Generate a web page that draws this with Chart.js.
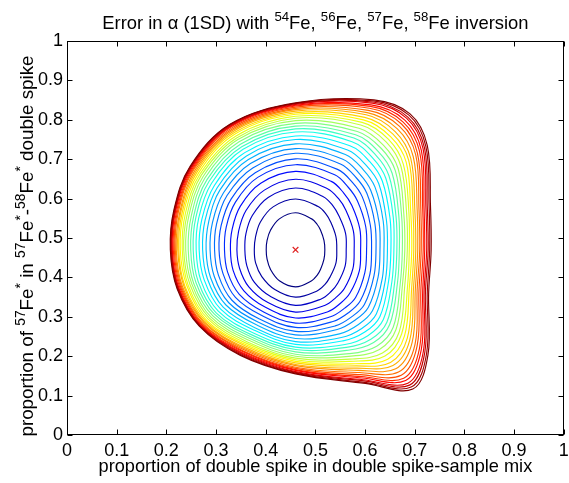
<!DOCTYPE html>
<html><head><meta charset="utf-8">
<script src="https://cdn.jsdelivr.net/npm/chart.js@4.4.0/dist/chart.umd.min.js"></script>
<style>html,body{margin:0;padding:0;background:#fff;}#wrap{width:569px;height:483px;position:relative;}</style>
</head><body><div id="wrap"><canvas id="c"></canvas></div>
<script>
// ---------- data ----------
const xTicks = [0, 0.1, 0.2, 0.3, 0.4, 0.5, 0.6, 0.7, 0.8, 0.9, 1];
const yTicks = [0, 0.1, 0.2, 0.3, 0.4, 0.5, 0.6, 0.7, 0.8, 0.9, 1];
const minimumPoint = {x: 0.46, y: 0.47};
// ray directions (degrees, data space) from the minimum
const rayAngles = [0, 22.5, 45, 56.25, 67.5, 90, 112.5, 135, 157.5, 180, 202.5, 225, 247.5, 270, 292.5, 303.75, 315, 337.5];
// distance (data units) from the minimum where each contour (inner -> outer) crosses each ray
const ray000 = [.059,.083,.102,.118,.131,.143,.153,.162,.170,.178,.185,.192,.198,.204,.209,.215,.220,.225,.229,.234,.238,.242,.246,.250,.253,.257,.260,.264,.267,.270,.273];
const ray022 = [.062,.088,.109,.126,.140,.153,.163,.173,.182,.191,.198,.206,.213,.219,.225,.231,.236,.242,.247,.251,.256,.260,.265,.269,.273,.277,.280,.284,.287,.291,.294];
const ray045 = [.071,.100,.123,.143,.160,.176,.190,.203,.214,.226,.237,.247,.257,.266,.275,.284,.292,.300,.307,.315,.322,.328,.335,.342,.347,.353,.358,.363,.367,.371,.375];
const ray056 = [.078,.110,.135,.156,.174,.191,.206,.220,.232,.245,.257,.269,.280,.290,.300,.310,.319,.329,.337,.345,.353,.361,.369,.377,.384,.390,.396,.402,.406,.411,.415];
const ray067 = [.085,.119,.146,.168,.188,.206,.221,.236,.249,.262,.274,.286,.297,.307,.316,.325,.334,.343,.350,.357,.364,.371,.377,.383,.389,.394,.398,.403,.406,.409,.412];
const ray090 = [.094,.129,.157,.179,.199,.216,.231,.245,.257,.269,.280,.289,.299,.307,.314,.321,.328,.334,.339,.344,.348,.352,.356,.359,.362,.365,.367,.369,.371,.372,.373];
const ray112 = [.085,.118,.144,.164,.183,.199,.212,.225,.237,.248,.258,.267,.276,.283,.290,.297,.303,.308,.313,.318,.322,.326,.329,.332,.335,.338,.340,.341,.343,.344,.345];
const ray135 = [.071,.100,.123,.141,.157,.171,.183,.195,.205,.215,.223,.231,.239,.246,.252,.258,.263,.268,.272,.276,.280,.283,.286,.289,.291,.293,.295,.297,.298,.299,.300];
const ray157 = [.062,.087,.108,.124,.138,.151,.162,.172,.181,.189,.197,.204,.211,.217,.222,.227,.232,.236,.240,.244,.247,.250,.252,.255,.257,.259,.261,.262,.263,.264,.265];
const ray180 = [.059,.083,.102,.118,.131,.143,.154,.163,.172,.180,.187,.194,.200,.206,.211,.216,.221,.225,.228,.232,.235,.237,.240,.242,.244,.246,.248,.249,.250,.251,.252];
const ray202 = [.062,.087,.106,.122,.136,.148,.158,.168,.177,.185,.192,.199,.206,.212,.217,.222,.226,.230,.234,.237,.241,.243,.246,.248,.250,.252,.254,.255,.256,.257,.258];
const ray225 = [.071,.096,.117,.133,.147,.160,.171,.181,.190,.198,.206,.213,.220,.226,.231,.236,.241,.245,.249,.253,.256,.259,.261,.264,.266,.268,.270,.271,.272,.273,.274];
const ray247 = [.085,.109,.129,.145,.158,.170,.180,.190,.198,.206,.214,.220,.227,.233,.238,.243,.248,.253,.257,.261,.264,.268,.271,.274,.277,.279,.282,.284,.286,.288,.290];
const ray270 = [.094,.120,.141,.158,.173,.186,.197,.207,.216,.225,.233,.240,.247,.253,.259,.265,.270,.275,.279,.283,.287,.291,.294,.298,.301,.304,.306,.309,.311,.313,.315];
const ray292 = [.085,.113,.135,.153,.170,.184,.197,.209,.219,.231,.241,.250,.260,.268,.276,.285,.292,.300,.306,.313,.319,.325,.331,.337,.343,.348,.352,.357,.360,.364,.367];
const ray303 = [.078,.106,.128,.146,.163,.178,.192,.204,.215,.228,.240,.251,.262,.273,.283,.294,.304,.315,.324,.334,.344,.353,.363,.373,.383,.392,.399,.407,.413,.419,.425];
const ray315 = [.071,.098,.120,.139,.155,.171,.184,.196,.207,.219,.230,.240,.250,.260,.268,.278,.286,.295,.302,.310,.318,.325,.332,.340,.346,.353,.358,.364,.368,.373,.377];
const ray337 = [.062,.088,.108,.125,.139,.151,.162,.171,.180,.189,.196,.203,.210,.216,.222,.228,.233,.238,.244,.248,.253,.257,.261,.265,.269,.273,.277,.280,.283,.287,.290];

const titleParts = [{t:'Error in \u03B1 (1SD) with '},{t:'54',s:1},{t:'Fe, '},{t:'56',s:1},{t:'Fe, '},{t:'57',s:1},{t:'Fe, '},{t:'58',s:1},{t:'Fe inversion'}];
const yTitleParts = [{t:'proportion of '},{t:'57',s:1},{t:'Fe'},{t:'*',s:1},{t:' in '},{t:'57',s:1},{t:'Fe'},{t:'*',s:1},{t:'-'},{t:'58',s:1},{t:'Fe'},{t:'*',s:1},{t:' double spike'}];
const xTitle = 'proportion of double spike in double spike-sample mix';

// ---------- build ----------
const FONT = '"Liberation Sans", Arial, Helvetica, sans-serif';
function jet(t){
  const c = v => Math.round(255*Math.max(0, Math.min(1, v)));
  return `rgb(${c(1.5-Math.abs(4*t-3))},${c(1.5-Math.abs(4*t-2))},${c(1.5-Math.abs(4*t-1))})`;
}
const rays = [ray000, ray022, ray045, ray056, ray067, ray090, ray112, ray135, ray157, ray180, ray202, ray225, ray247, ray270, ray292, ray303, ray315, ray337];
const nLevels = ray000.length;
const datasets = [];
for (let k = nLevels - 1; k >= 0; k--) {
  const pts = rayAngles.map((a, j) => {
    const t = a * Math.PI / 180;
    return {x: minimumPoint.x + rays[j][k] * Math.cos(t), y: minimumPoint.y + rays[j][k] * Math.sin(t)};
  });
  datasets.push({data: pts, showLine: true, closedLoop: true, borderColor: jet(k/(nLevels-1)),
    borderWidth: 1.15, pointRadius: 0, pointHoverRadius: 0, pointHitRadius: 0, tension: 0.36, fill: false});
}
datasets.push({data: [minimumPoint], showLine: false, pointStyle: 'crossRot', pointRadius: 4,
  borderColor: '#e02020', backgroundColor: '#e02020', pointBorderWidth: 1.2});

const loopPlugin = {
  id: 'loop',
  afterDatasetsUpdate(chart) {
    chart.data.datasets.forEach((ds, i) => {
      if (!ds.closedLoop) return;
      const line = chart.getDatasetMeta(i).dataset;
      if (!line) return;
      line._loop = true; line._fullLoop = true;
      delete line._segments; line._path = undefined; line._pointsUpdated = false;
    });
  }
};

function drawRich(ctx, parts, x, y, size, supRatio) {
  const sup = size * supRatio;
  let w = 0;
  parts.forEach(p => { ctx.font = (p.s ? sup : size) + 'px ' + FONT; p.w = ctx.measureText(p.t).width; w += p.w; });
  let cx = x - w / 2;
  ctx.textAlign = 'left'; ctx.textBaseline = 'alphabetic'; ctx.fillStyle = '#000';
  parts.forEach(p => { ctx.font = (p.s ? sup : size) + 'px ' + FONT; ctx.fillText(p.t, cx, p.s ? y - size * 0.42 : y); cx += p.w; });
}

const framePlugin = {
  id: 'frame',
  afterDraw(chart) {
    const {ctx, chartArea: a, scales: {x, y}} = chart;
    ctx.save();
    ctx.strokeStyle = '#000'; ctx.lineWidth = 1;
    const L = Math.round(a.left) + 0.5, R = Math.round(a.right) - 0.5, T = Math.round(a.top) + 0.5, B = Math.round(a.bottom) - 0.5;
    ctx.strokeRect(L, T, R - L, B - T);
    const tl = 5;
    ctx.beginPath();
    xTicks.forEach(v => { const px = Math.round(x.getPixelForValue(v)) + 0.5; ctx.moveTo(px, B); ctx.lineTo(px, B - tl); ctx.moveTo(px, T); ctx.lineTo(px, T + tl); });
    yTicks.forEach(v => { const py = Math.round(y.getPixelForValue(v)) + 0.5; ctx.moveTo(L, py); ctx.lineTo(L + tl, py); ctx.moveTo(R, py); ctx.lineTo(R - tl, py); });
    ctx.stroke();
    drawRich(ctx, titleParts, (a.left + a.right) / 2, 29, 18.4, 0.72);
    drawRich(ctx, [{t: xTitle}], (a.left + a.right) / 2, 472, 18.2, 0.72);
    ctx.translate(33, 246); ctx.rotate(-Math.PI / 2);
    drawRich(ctx, yTitleParts, 0, 0, 18.8, 0.74);
    ctx.restore();
  }
};

const tickFmt = v => String(Math.round(v * 10) / 10);
new Chart(document.getElementById('c'), {
  type: 'scatter',
  data: {datasets},
  options: {
    responsive: true, maintainAspectRatio: false, animation: false,
    layout: {padding: {top: 41, right: 1, left: 0, bottom: 0}},
    plugins: {legend: {display: false}, tooltip: {enabled: false}, title: {display: false}},
    scales: {
      x: {type: 'linear', min: 0, max: 1,
        afterBuildTicks: s => { s.ticks = xTicks.map(v => ({value: v})); },
        afterFit: s => { s.height = 48; s.paddingLeft = 0; s.paddingRight = 0; },
        grid: {display: false, drawTicks: false}, border: {display: false},
        ticks: {callback: tickFmt, padding: 5, color: '#000', font: {family: FONT, size: 18}, maxRotation: 0, autoSkip: false}},
      y: {type: 'linear', min: 0, max: 1,
        afterBuildTicks: s => { s.ticks = yTicks.map(v => ({value: v})); },
        afterFit: s => { s.width = 67; s.paddingTop = 0; s.paddingBottom = 0; },
        grid: {display: false, drawTicks: false}, border: {display: false},
        ticks: {callback: tickFmt, padding: 4, color: '#000', font: {family: FONT, size: 18}, autoSkip: false}}
    }
  },
  plugins: [loopPlugin, framePlugin]
});
</script></body></html>
